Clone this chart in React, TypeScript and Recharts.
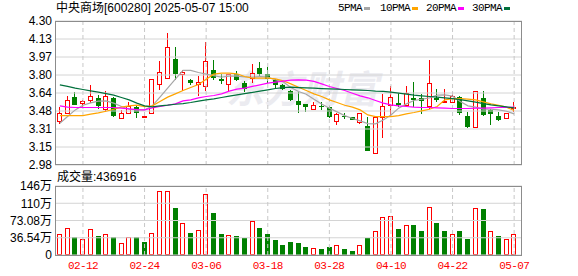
/**
 * 中央商场 daily K-line with moving averages and volume panel.
 * Two stacked ComposedCharts sharing the same category x axis layout.
 */

import { ComposedChart, Bar, Line, XAxis, YAxis, ReferenceLine } from "recharts";

const RED = "#ff0000";
const GREEN = "#008000";
const GRID = "#d4d4d4";
const BORDER = "#8c8c8c";
const MONO = "'Liberation Mono', 'DejaVu Sans Mono', monospace";
const SANS = "'Liberation Sans', Arial, 'Noto Sans CJK SC', sans-serif";

const dates = [
  "02-07", "02-10", "02-11", "02-12", "02-13", "02-14", "02-17", "02-18", "02-19", "02-20",
  "02-21", "02-24", "02-25", "02-26", "02-27", "02-28", "03-03", "03-04", "03-05", "03-06",
  "03-07", "03-10", "03-11", "03-12", "03-13", "03-14", "03-17", "03-18", "03-19", "03-20",
  "03-21", "03-24", "03-25", "03-26", "03-27", "03-28", "03-31", "04-01", "04-02", "04-03",
  "04-07", "04-08", "04-09", "04-10", "04-11", "04-14", "04-15", "04-16", "04-17", "04-18",
  "04-21", "04-22", "04-23", "04-24", "04-25", "04-28", "04-29", "04-30", "05-06", "05-07",
];

const opens = [
  3.38, 3.46, 3.60, 3.55, 3.58, 3.59, 3.49, 3.59, 3.41, 3.46,
  3.51, 3.42, 3.46, 3.72, 3.78, 3.95, 3.81, 3.76, 3.72, 3.70,
  3.85, 3.77, 3.72, 3.81, 3.73, 3.78, 3.87, 3.81, 3.76, 3.71,
  3.66, 3.57, 3.54, 3.49, 3.52, 3.51, 3.38, 3.43, 3.42, 3.37,
  3.34, 3.09, 3.42, 3.53, 3.55, 3.53, 3.59, 3.59, 3.52, 3.59,
  3.56, 3.56, 3.60, 3.43, 3.33, 3.59, 3.48, 3.43, 3.41, 3.50,
];
const highs = [
  3.51, 3.61, 3.65, 3.58, 3.71, 3.62, 3.66, 3.60, 3.48, 3.56,
  3.53, 3.47, 3.77, 3.93, 4.19, 4.06, 3.85, 3.77, 3.80, 4.11,
  3.94, 3.81, 3.81, 3.84, 3.75, 3.91, 3.92, 3.88, 3.77, 3.72,
  3.67, 3.65, 3.54, 3.56, 3.56, 3.52, 3.46, 3.46, 3.42, 3.46,
  3.42, 3.42, 3.63, 3.70, 3.64, 3.70, 3.74, 3.63, 3.94, 3.68,
  3.68, 3.65, 3.61, 3.47, 3.66, 3.66, 3.49, 3.47, 3.46, 3.56,
];
const lows = [
  3.36, 3.45, 3.53, 3.51, 3.55, 3.49, 3.47, 3.42, 3.41, 3.46,
  3.41, 3.41, 3.45, 3.67, 3.78, 3.76, 3.66, 3.71, 3.61, 3.66,
  3.76, 3.72, 3.66, 3.75, 3.65, 3.73, 3.80, 3.73, 3.68, 3.67,
  3.57, 3.46, 3.47, 3.48, 3.48, 3.41, 3.35, 3.40, 3.39, 3.36,
  3.11, 3.09, 3.23, 3.42, 3.51, 3.52, 3.51, 3.45, 3.49, 3.56,
  3.55, 3.55, 3.44, 3.32, 3.33, 3.43, 3.35, 3.38, 3.41, 3.47,
];
const closes = [
  3.46, 3.58, 3.53, 3.57, 3.61, 3.52, 3.61, 3.43, 3.46, 3.52,
  3.46, 3.43, 3.77, 3.83, 4.06, 3.81, 3.83, 3.73, 3.74, 3.93,
  3.78, 3.75, 3.81, 3.76, 3.68, 3.82, 3.81, 3.77, 3.71, 3.68,
  3.58, 3.53, 3.51, 3.53, 3.51, 3.42, 3.45, 3.42, 3.39, 3.46,
  3.11, 3.42, 3.52, 3.60, 3.53, 3.64, 3.58, 3.57, 3.73, 3.58,
  3.57, 3.61, 3.46, 3.33, 3.66, 3.44, 3.45, 3.39, 3.46, 3.51,
];
const volumes = [
  450000, 576000, 386000, 344000, 555000, 408000, 450000, 372000, 260000, 386000,
  372000, 267000, 470000, 1356000, 1358000, 998000, 682000, 457000, 534000, 1293000,
  900000, 436000, 429000, 408000, 351000, 724000, 576000, 450000, 309000, 218000,
  280000, 260000, 176000, 155000, 134000, 176000, 218000, 134000, 91000, 218000,
  365000, 513000, 808000, 829000, 555000, 640000, 640000, 513000, 1019000, 682000,
  513000, 450000, 513000, 344000, 998000, 977000, 513000, 408000, 344000, 436916,
];

const ma5 = [
  3.363, 3.424, 3.485, 3.528, 3.550, 3.565, 3.568, 3.547, 3.516, 3.491,
  3.485, 3.485, 3.522, 3.602, 3.684, 3.767, 3.847, 3.847, 3.828, 3.813,
  3.798, 3.785, 3.795, 3.795, 3.788, 3.785, 3.791, 3.785, 3.761, 3.742,
  3.690, 3.654, 3.629, 3.583, 3.540, 3.501, 3.467, 3.433, 3.406, 3.384,
  3.360, 3.357, 3.393, 3.439, 3.501, 3.540, 3.571, 3.583, 3.596, 3.620,
  3.623, 3.611, 3.562, 3.522, 3.510, 3.491, 3.491, 3.485, 3.473, 3.449,
];
const ma10 = [
  3.433, 3.433, 3.433, 3.433, 3.446, 3.458, 3.473, 3.491, 3.510, 3.522,
  3.528, 3.516, 3.522, 3.562, 3.602, 3.632, 3.663, 3.690, 3.718, 3.767,
  3.813, 3.822, 3.822, 3.816, 3.791, 3.776, 3.776, 3.776, 3.770, 3.752,
  3.724, 3.693, 3.663, 3.632, 3.608, 3.577, 3.553, 3.528, 3.510, 3.485,
  3.439, 3.424, 3.424, 3.424, 3.433, 3.449, 3.461, 3.476, 3.491, 3.516,
  3.577, 3.589, 3.589, 3.583, 3.577, 3.559, 3.540, 3.528, 3.510, 3.479,
];
const ma20 = [
  3.522, 3.510, 3.507, 3.507, 3.507, 3.507, 3.507, 3.507, 3.501, 3.495,
  3.488, 3.485, 3.504, 3.516, 3.528, 3.540, 3.568, 3.577, 3.596, 3.608,
  3.617, 3.632, 3.657, 3.675, 3.684, 3.700, 3.715, 3.730, 3.739, 3.749,
  3.758, 3.761, 3.758, 3.746, 3.724, 3.700, 3.681, 3.663, 3.638, 3.614,
  3.596, 3.571, 3.547, 3.531, 3.522, 3.516, 3.510, 3.507, 3.507, 3.504,
  3.501, 3.498, 3.498, 3.498, 3.501, 3.501, 3.504, 3.507, 3.507, 3.510,
];
const ma30 = [
  3.715, 3.700, 3.684, 3.672, 3.660, 3.648, 3.635, 3.620, 3.599, 3.577,
  3.547, 3.522, 3.513, 3.522, 3.528, 3.537, 3.543, 3.553, 3.565, 3.577,
  3.586, 3.599, 3.611, 3.623, 3.635, 3.645, 3.657, 3.669, 3.681, 3.690,
  3.694, 3.690, 3.687, 3.684, 3.681, 3.678, 3.675, 3.672, 3.669, 3.666,
  3.663, 3.657, 3.654, 3.648, 3.638, 3.629, 3.620, 3.614, 3.608, 3.602,
  3.596, 3.589, 3.580, 3.568, 3.556, 3.543, 3.531, 3.522, 3.513, 3.504,
];

const tickDates = ["02-12", "02-24", "03-06", "03-18", "03-28", "04-10", "04-22", "05-07"];
const priceTicks = [2.98, 3.145, 3.31, 3.475, 3.64, 3.805, 3.97, 4.135, 4.3];
const priceTickLabels = ["2.98", "3.15", "3.31", "3.48", "3.64", "3.80", "3.97", "4.13", "4.30"];
const volTicks = [0, 365400, 730800, 1096200, 1461600];
const volTickLabels = ["0", "36.54万", "73.08万", "110万", "146万"];

const maSeries = [
  { key: "ma5", name: "5PMA", color: "#a6a6a6" },
  { key: "ma10", name: "10PMA", color: "#ffa500" },
  { key: "ma20", name: "20PMA", color: "#ff00ff" },
  { key: "ma30", name: "30PMA", color: "#00703c" },
];

const rows = dates.map((date, i) => ({
  date,
  open: opens[i],
  high: highs[i],
  low: lows[i],
  close: closes[i],
  vol: volumes[i],
  ma5: ma5[i],
  ma10: ma10[i],
  ma20: ma20[i],
  ma30: ma30[i],
  // volume colour follows the change against the previous close
  volUp: i === 0 ? closes[i] >= opens[i] : closes[i] >= closes[i - 1],
}));

function Candle(props: any) {
  const { x, y, width, height, payload } = props;
  if (x == null || !payload) return null;
  const { open, close, high, low } = payload;
  const span = high - low || 1;
  const yOf = (p: number) => y + ((high - p) / span) * height;
  const left = Math.round(x + width / 2 - 2.5);
  const cx = left + 2.5;
  const yHigh = Math.round(yOf(high));
  const yLow = Math.round(yOf(low));
  const top = Math.round(yOf(Math.max(open, close)));
  const bottom = Math.round(yOf(Math.min(open, close)));
  if (close >= open) {
    const h = Math.max(bottom - top, 1);
    return (
      <g>
        <line x1={cx} x2={cx} y1={yHigh} y2={top} stroke={RED} />
        <line x1={cx} x2={cx} y1={top + h} y2={yLow} stroke={RED} />
        <rect x={left + 0.5} y={top + 0.5} width={4} height={h} fill="#fff" stroke={RED} />
      </g>
    );
  }
  return (
    <g>
      <line x1={cx} x2={cx} y1={yHigh} y2={yLow} stroke={GREEN} />
      <rect x={left} y={top} width={5} height={Math.max(bottom - top, 1)} fill={GREEN} />
    </g>
  );
}

function VolBar(props: any) {
  const { x, y, width, height, payload } = props;
  if (x == null || !payload) return null;
  const left = Math.round(x + width / 2 - 2.5);
  const top = Math.round(y);
  const bottom = Math.round(y + height);
  if (payload.volUp) {
    return (
      <rect x={left + 0.5} y={top + 0.5} width={4} height={Math.max(bottom - top - 1, 0)} fill="#fff" stroke={RED} />
    );
  }
  return <rect x={left} y={top} width={5} height={bottom - top} fill={GREEN} />;
}

const axisTick = { fontSize: 12, fill: "#000", fontFamily: SANS };

export default function App() {
  return (
    <div style={{ position: "absolute", left: 0, top: 0, width: 578, height: 276, background: "#fff", overflow: "hidden" }}>
      {/* watermark */}
      <div
        style={{
          position: "absolute",
          left: 226,
          top: 64,
          fontSize: 38,
          fontWeight: 700,
          fontStyle: "italic",
          color: "#ebebf0",
          fontFamily: "'Noto Sans CJK SC', sans-serif",
          lineHeight: "46px",
          whiteSpace: "nowrap",
        }}
      >
        东方财富
      </div>

      {/* title */}
      <div style={{ position: "absolute", left: 56, top: 1, fontSize: 12, lineHeight: "15px", fontFamily: SANS, color: "#000", whiteSpace: "nowrap" }}>
        中央商场[600280] 2025-05-07 15:00
      </div>

      {/* legend */}
      {maSeries.map((s, i) => (
        <div
          key={s.key}
          style={{
            position: "absolute",
            left: [338, 380, 426, 472][i],
            top: 1,
            display: "flex",
            alignItems: "center",
            fontFamily: MONO,
            fontSize: 11,
            letterSpacing: -0.6,
            lineHeight: "15px",
            color: "#000",
            whiteSpace: "nowrap",
          }}
        >
          <span>{s.name}</span>
          <span style={{ display: "inline-block", width: 6, height: 3, background: s.color, marginLeft: 2 }} />
        </div>
      ))}

      {/* price panel */}
      <div style={{ position: "absolute", left: 0, top: 0 }}>
        <ComposedChart width={578} height={180} data={rows} margin={{ top: 21, right: 56, bottom: 15, left: 0 }}>
          <XAxis dataKey="date" type="category" hide padding={{ left: 1, right: 4 }} />
          <YAxis
            type="number"
            width={55}
            domain={[2.98, 4.3]}
            allowDataOverflow
            ticks={priceTicks}
            interval={0}
            tickFormatter={(_v: number, i: number) => priceTickLabels[i]}
            tick={axisTick}
            tickLine={false}
            axisLine={false}
            tickSize={0}
            tickMargin={3}
          />
          {priceTicks.map((t) => (
            <ReferenceLine key={t} y={t} stroke={GRID} />
          ))}
          {tickDates.map((d) => (
            <ReferenceLine key={d} x={d} stroke="#c8c8c8" strokeDasharray="4 3" />
          ))}
          <Bar dataKey={(d: any) => [d.low, d.high]} barSize={5} shape={Candle} isAnimationActive={false} />
          {maSeries.map((s) => (
            <Line
              key={s.key}
              type="linear"
              dataKey={s.key}
              stroke={s.color}
              strokeWidth={1.2}
              dot={false}
              activeDot={false}
              isAnimationActive={false}
            />
          ))}
        </ComposedChart>
      </div>
      <div style={{ position: "absolute", left: 55, top: 21, width: 467, height: 144, border: `1px solid ${BORDER}`, boxSizing: "border-box", pointerEvents: "none" }} />

      {/* volume label */}
      <div style={{ position: "absolute", left: 57, top: 170, fontSize: 12, lineHeight: "15px", fontFamily: SANS, color: "#000", whiteSpace: "nowrap" }}>
        成交量:{volumes[volumes.length - 1]}
      </div>

      {/* volume panel */}
      <div style={{ position: "absolute", left: 0, top: 170 }}>
        <ComposedChart width={578} height={106} data={rows} margin={{ top: 16, right: 56, bottom: 0, left: 0 }}>
          <XAxis
            dataKey="date"
            type="category"
            height={21}
            padding={{ left: 1, right: 4 }}
            ticks={tickDates}
            interval={0}
            tick={{ fontSize: 11, fill: RED, fontFamily: MONO, letterSpacing: -0.6 }}
            tickLine={false}
            axisLine={false}
            tickSize={0}
            tickMargin={6}
          />
          <YAxis
            type="number"
            width={55}
            domain={[0, 1461600]}
            allowDataOverflow
            ticks={volTicks}
            interval={0}
            tickFormatter={(_v: number, i: number) => volTickLabels[i]}
            tick={axisTick}
            tickLine={false}
            axisLine={false}
            tickSize={0}
            tickMargin={3}
          />
          {volTicks.map((t) => (
            <ReferenceLine key={t} y={t} stroke={GRID} />
          ))}
          {tickDates.map((d) => (
            <ReferenceLine key={d} x={d} stroke="#c8c8c8" strokeDasharray="4 3" />
          ))}
          <Bar dataKey="vol" barSize={5} shape={VolBar} isAnimationActive={false} />
        </ComposedChart>
      </div>
      <div style={{ position: "absolute", left: 55, top: 186, width: 467, height: 70, border: `1px solid ${BORDER}`, boxSizing: "border-box", pointerEvents: "none" }} />
    </div>
  );
}
